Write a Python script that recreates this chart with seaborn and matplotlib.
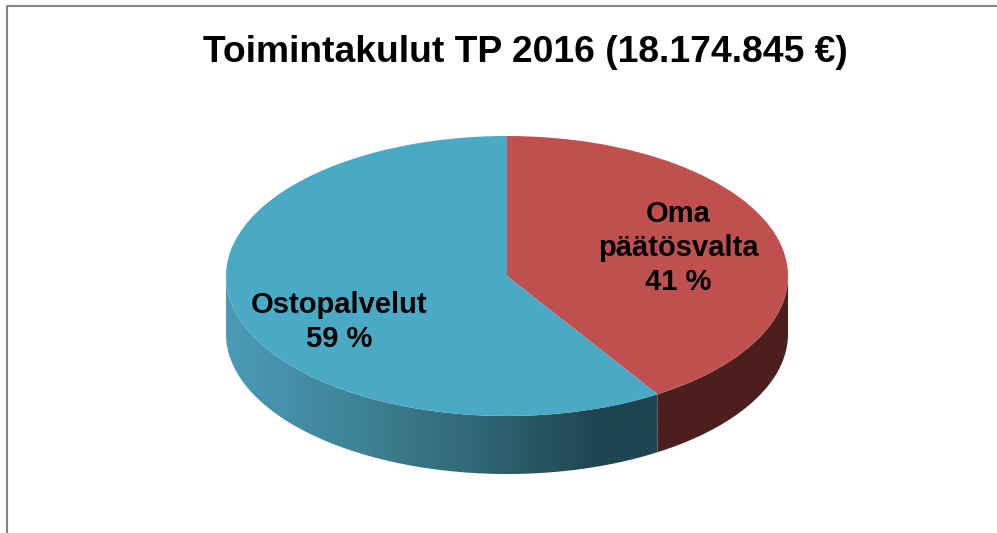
"""Toimintakulut TP 2016: 3D-style pie"""
import numpy as np
import matplotlib
matplotlib.use("Agg")
import matplotlib.pyplot as plt
from matplotlib.patches import Polygon
import seaborn as sns

sns.set_theme(style="white")
plt.rcParams['font.family'] = ['Liberation Sans', 'DejaVu Sans']

title = "Toimintakulut TP 2016 (18.174.845 €)"
categories = ["Oma\npäätösvalta", "Ostopalvelut"]
shares = [41, 59]
top_colors = ["#c0504d", "#4aaac5"]
wall_red = "#4c1f1e"
wall_blue = ["#4a9bb7", "#458fa9", "#3f8599", "#387685", "#306878", "#275661", "#1f4650", "#1f4650"]

W, H = 997, 533
cx, cy, rx, ry, depth = 507, 276, 281, 140, 58

fig = plt.figure(figsize=(W / 100, H / 100), dpi=100)
ax = fig.add_axes([(cx - rx) / W, 1 - (cy + ry + depth) / H, 2 * rx / W, (2 * ry + depth) / H])
ax.axis("off")

ax.pie(shares, colors=top_colors, startangle=90, counterclock=False, radius=1,
       wedgeprops={"linewidth": 0, "zorder": 3})
ax.set_aspect("auto")

d = depth / ry


def wall_outline(start, stop):
    """side wall of the pie between two clock angles (radians)"""
    t = np.linspace(start, stop, 200)
    x, y = np.sin(t), np.cos(t)
    return np.r_[np.c_[x, y], np.c_[x, y - d][::-1]]


# wedge boundary comes from the shares, wall runs to the leftmost point of the ellipse
split = 2 * np.pi * shares[0] / sum(shares)

ax.add_patch(Polygon(wall_outline(np.pi / 2, split), closed=True, fc=wall_red, ec="none", zorder=1))

blue_patch = Polygon(wall_outline(split, 1.5 * np.pi), closed=True, fc="none", ec="none", zorder=1)
ax.add_patch(blue_patch)
cmap = sns.blend_palette(wall_blue, n_colors=256, as_cmap=True)
grad = np.linspace(0, 1, 256).reshape(1, -1)
im = ax.imshow(grad, cmap=cmap, aspect="auto", zorder=1,
               extent=(-1, np.sin(split), -1 - d, 0))
im.set_clip_path(blue_patch)
ax.set_xlim(-1, 1)
ax.set_ylim(-1 - d, 1)


def put(px, py, s):
    fig.text(px / W, 1 - py / H, s, ha="center", va="center", fontsize=21,
             fontweight="bold", color="black", linespacing=1.27)


put(678, 248, categories[0] + f"\n{shares[0]} %")
put(339, 322, categories[1] + f"\n{shares[1]} %")

fig.text(525.5 / W, 1 - 52.5 / H, title, ha="center", va="center", fontsize=26.8,
         fontweight="bold", color="black")

fig.add_artist(plt.Line2D([6.5 / W, 6.5 / W, 1], [0, 1 - 5.5 / H, 1 - 5.5 / H],
                          color="#868686", lw=1.5))

fig.savefig("out.png", dpi=100)
